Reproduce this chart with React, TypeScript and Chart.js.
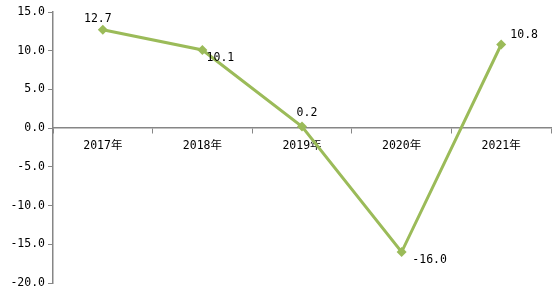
import React, { useEffect, useRef } from "react";
import { Chart, registerables } from "chart.js";

Chart.register(...registerables);

const categories = ["2017年", "2018年", "2019年", "2020年", "2021年"];
const growth = [12.7, 10.1, 0.2, -16.0, 10.8];
const labelOffsets: [number, number][] = [
  [-5, -11],
  [18, 8],
  [5, -14],
  [28, 8],
  [23, -10],
];

const FONT = '"DejaVu Sans Mono", "Noto Sans CJK SC", sans-serif';
const GREEN = "#9BBB59";
const AXIS = "#868686";

const valueLabels = {
  id: "valueLabels",
  afterDatasetsDraw(chart: any) {
    const ctx = chart.ctx;
    const meta = chart.getDatasetMeta(0);
    ctx.save();
    ctx.font = `11.5px ${FONT}`;
    ctx.fillStyle = "#000";
    ctx.textAlign = "center";
    ctx.textBaseline = "middle";
    meta.data.forEach((el: any, i: number) => {
      const [dx, dy] = labelOffsets[i];
      ctx.fillText(growth[i].toFixed(1), el.x + dx, el.y + dy);
    });
    ctx.restore();
  },
};

export default function App() {
  const ref = useRef<HTMLCanvasElement>(null);
  useEffect(() => {
    document.body.style.margin = "0";
    const chart = new Chart(ref.current!, {
      type: "line",
      data: {
        labels: categories,
        datasets: [
          {
            data: growth,
            borderColor: GREEN,
            backgroundColor: GREEN,
            borderWidth: 3,
            pointStyle: "rectRot",
            pointRadius: 5,
            pointBorderWidth: 0,
            tension: 0,
          },
        ],
      },
      options: {
        animation: false,
        responsive: false,
        layout: { padding: { top: 12, right: 2, bottom: 4, left: 0 } },
        plugins: { legend: { display: false }, tooltip: { enabled: false } },
        scales: {
          x: {
            position: { y: 0 } as any,
            offset: true,
            grid: {
              offset: true,
              drawOnChartArea: false,
              drawTicks: true,
              tickLength: 5,
              color: AXIS,
            },
            border: { color: AXIS, width: 1.5 },
            ticks: { color: "#000", font: { family: FONT, size: 11.5 }, padding: 6, maxRotation: 0 },
          },
          y: {
            min: -20,
            max: 15,
            grid: { drawOnChartArea: false, drawTicks: true, tickLength: 5, color: AXIS },
            border: { color: AXIS, width: 1.5 },
            ticks: {
              stepSize: 5,
              color: "#000",
              font: { family: FONT, size: 11.5 },
              padding: 3,
              callback: (v: any) => Number(v).toFixed(1),
            },
            afterFit: (s: any) => {
              s.width = 53;
              s.paddingTop = 0;
              s.paddingBottom = 0;
            },
          },
        },
      },
      plugins: [valueLabels],
    });
    return () => chart.destroy();
  }, []);
  return (
    <div style={{ width: 556, height: 288 }}>
      <canvas ref={ref} width={556} height={288} />
    </div>
  );
}
